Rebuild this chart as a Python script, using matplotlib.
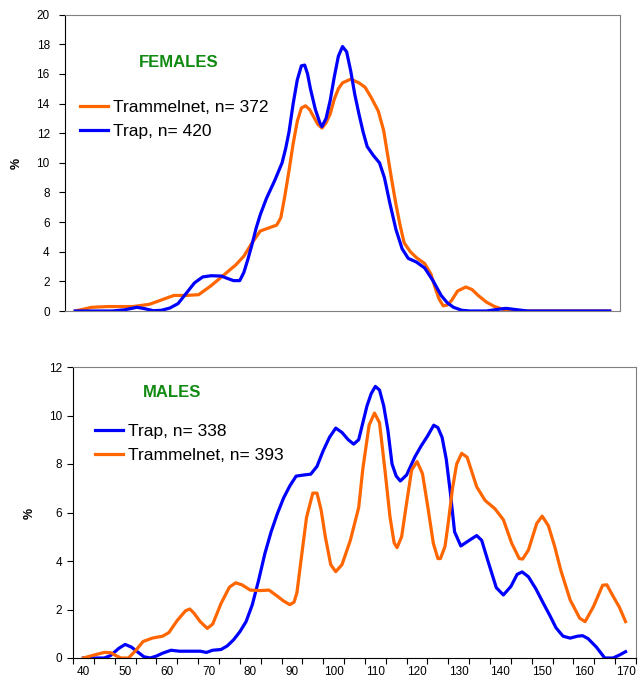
import matplotlib
matplotlib.use("Agg")
import matplotlib.pyplot as plt

plt.rcParams['font.family'] = ['Liberation Sans', 'DejaVu Sans']

# length classes (same scale both panels)
f_tram_x = [40, 44, 48, 54, 58, 61, 64, 67, 70, 73, 76, 79, 81, 83, 85, 87, 89, 90, 91, 92,
            93, 94, 95, 96, 97, 98, 99, 100, 101, 102, 103, 104, 105, 107, 109, 110.5, 112,
            113.7, 115, 116, 117, 118, 119, 120, 121.5, 123, 125, 126.5, 127.5, 128.5, 129.5,
            130.5, 131.5, 133, 135, 136.5, 138, 140, 142, 144, 146, 170]
f_tram_y = [0, 0.25, 0.3, 0.3, 0.45, 0.75, 1.05, 1.05, 1.1, 1.7, 2.4, 3.1, 3.7, 4.6, 5.4, 5.6,
            5.8, 6.3, 7.8, 9.5, 11.3, 12.8, 13.7, 13.85, 13.6, 13.1, 12.6, 12.35, 12.7, 13.3,
            14.3, 15.0, 15.4, 15.65, 15.4, 15.1, 14.4, 13.5, 12.2, 10.5, 8.8, 7.2, 5.8, 4.6,
            4.0, 3.6, 3.2, 2.5, 1.6, 0.8, 0.35, 0.4, 0.7, 1.35, 1.62, 1.45, 1.05, 0.6, 0.3,
            0.12, 0, 0]

f_trap_x = [40, 49, 52, 55, 57, 59, 61, 63, 65, 67, 69, 71, 73, 75.5, 77, 78.5, 80, 81, 82,
            83, 84, 85, 86.5, 88.5, 90.3, 91.2, 92, 93, 94, 95, 95.8, 96.5, 97.2, 98.4, 99.5,
            100, 101, 102, 103, 104, 105, 106, 107, 108, 109, 110, 111, 112.5, 114, 115.2,
            116.5, 118, 119.5, 121, 123, 125, 127, 129, 130.5, 132, 134, 136, 140, 142.5,
            144.8, 147, 150, 170]
f_trap_y = [0, 0, 0.08, 0.25, 0.15, 0.02, 0.05, 0.2, 0.5, 1.2, 1.9, 2.3, 2.38, 2.36, 2.2,
            2.05, 2.05, 2.6, 3.5, 4.5, 5.6, 6.5, 7.6, 8.8, 10.0, 11.0, 12.1, 14.0, 15.6,
            16.55, 16.6, 16.0, 15.0, 13.6, 12.7, 12.45, 13.0, 14.2, 15.8, 17.2, 17.85, 17.5,
            16.2, 14.6, 13.3, 12.1, 11.1, 10.5, 10.0, 9.0, 7.3, 5.5, 4.2, 3.55, 3.3, 2.9,
            2.05, 1.05, 0.55, 0.25, 0.05, 0, 0, 0.1, 0.18, 0.1, 0, 0]

m_trap_x = [40, 45, 46.5, 48.5, 50, 51.5, 53, 54.5, 56, 57.5, 59, 61, 63, 66, 68, 69.5, 71,
            73, 74.5, 76, 77.5, 79, 80.5, 82, 83.5, 85, 86.5, 88, 89.5, 91, 93, 94.5, 96,
            97.5, 99, 100.5, 102, 103.5, 104.8, 106, 107, 108, 109, 110, 111, 112, 113, 114,
            115, 116, 117.5, 119.5, 121, 122.5, 124, 125, 126, 127, 128, 129, 130.5, 132.5,
            134.3, 135.5, 137, 139, 140.7, 142.5, 144, 145.2, 146.7, 148.5, 150.3, 152,
            153.3, 155, 156.7, 158.5, 159.7, 161, 163, 165, 167, 168.5, 170]
m_trap_y = [0, 0, 0.1, 0.4, 0.56, 0.45, 0.25, 0.05, 0, 0.08, 0.2, 0.32, 0.28, 0.28, 0.28,
            0.23, 0.32, 0.35, 0.5, 0.75, 1.08, 1.5, 2.2, 3.2, 4.3, 5.2, 5.95, 6.6, 7.1, 7.5,
            7.55, 7.58, 7.9, 8.55, 9.1, 9.48, 9.3, 9.0, 8.82, 9.0, 9.7, 10.4, 10.9, 11.2,
            11.05, 10.4, 9.4, 8.0, 7.5, 7.3, 7.55, 8.3, 8.75, 9.15, 9.6, 9.5, 9.1, 8.2, 6.8,
            5.2, 4.62, 4.85, 5.05, 4.85, 4.0, 2.9, 2.6, 2.95, 3.45, 3.55, 3.35, 2.85, 2.25,
            1.7, 1.25, 0.9, 0.82, 0.9, 0.92, 0.8, 0.45, 0, 0, 0.12, 0.26]

m_tram_x = [40, 42.5, 45, 46.5, 48, 49, 50.8, 52.5, 54.3, 56.5, 59, 60.5, 62.5, 64.5, 65.5,
            66.5, 68, 69.7, 71, 73, 75, 76.5, 78, 80, 82.3, 84.5, 86.5, 88, 89.5, 90.5, 91.2,
            92.3, 93.5, 95, 96, 97, 98, 99.3, 100.5, 102, 104, 106, 107, 108.5, 109.8, 111,
            112.3, 113.5, 114.5, 115.2, 116.3, 117.5, 118.7, 120, 121.3, 122.7, 123.9, 125,
            125.6, 126.7, 127.5, 128.5, 129.5, 130.7, 132, 134.3, 136.3, 138.7, 140.7, 142.7,
            144.5, 145.3, 146.7, 148.7, 150, 151.5, 153, 154.5, 156.7, 159, 160.3, 162.3,
            164.5, 165.5, 167, 168.5, 170]
m_tram_y = [0, 0.12, 0.23, 0.22, 0.08, 0, 0, 0.3, 0.68, 0.82, 0.9, 1.05, 1.55, 1.95, 2.02,
            1.85, 1.5, 1.22, 1.4, 2.25, 2.92, 3.1, 3.02, 2.8, 2.78, 2.8, 2.55, 2.35, 2.2, 2.3,
            2.7, 4.2, 5.8, 6.8, 6.8, 6.1, 5.0, 3.85, 3.56, 3.85, 4.85, 6.2, 7.8, 9.6, 10.1,
            9.7, 7.75, 5.83, 4.75, 4.55, 5.0, 6.4, 7.75, 8.1, 7.6, 6.1, 4.73, 4.1, 4.1, 4.6,
            5.6, 7.0, 8.0, 8.44, 8.28, 7.06, 6.5, 6.15, 5.7, 4.73, 4.1, 4.08, 4.45, 5.55,
            5.85, 5.45, 4.6, 3.6, 2.4, 1.64, 1.5, 2.12, 3.0, 3.02, 2.55, 2.1, 1.5]

x_labels = list(range(40, 171, 10))

ORANGE = '#FF6600'
BLUE = '#0000FF'
GREEN = '#118A11'

fig = plt.figure(figsize=(6.42, 6.81), dpi=100)
ax1 = fig.add_axes([65/642, 1 - 311/681, 555/642, 296.3/681])
ax2 = fig.add_axes([73/642, 23/681, 563/642, 291/681])

lw = 2.3
ax1.plot(f_tram_x, f_tram_y, color=ORANGE, lw=lw, label='Trammelnet, n= 372', solid_joinstyle='round')
ax1.plot(f_trap_x, f_trap_y, color=BLUE, lw=lw, label='Trap, n= 420', solid_joinstyle='round')
ax2.plot(m_trap_x, m_trap_y, color=BLUE, lw=lw, label='Trap, n= 338', solid_joinstyle='round')
ax2.plot(m_tram_x, m_tram_y, color=ORANGE, lw=lw, label='Trammelnet, n= 393', solid_joinstyle='round')

for ax in (ax1, ax2):
    ax.set_xlim(37.5, 172.5)
    for s in ('top', 'right'):
        ax.spines[s].set_color('#808080')
    ax.spines['left'].set_color('black')
    ax.tick_params(axis='y', direction='out', length=4, width=0.8, labelsize=8.5)

ax1.set_ylim(0, 20)
ax1.set_yticks(range(0, 21, 2))
ax1.set_xticks([])
ax1.spines['bottom'].set_color('#808080')
ax1.tick_params(axis='y', pad=7)

ax2.set_ylim(0, 12)
ax2.set_yticks(range(0, 13, 2))
ax2.tick_params(axis='y', pad=4)
ax2.set_xticks([37.5 + 5 * k for k in range(28)])
ax2.set_xticklabels([])
ax2.tick_params(axis='x', which='major', direction='out', length=4, width=0.8)
ax2.set_xticks(x_labels, minor=True)
ax2.set_xticklabels([str(v) for v in x_labels], minor=True, fontsize=8.5)
ax2.tick_params(axis='x', which='minor', length=0, pad=6)
ax2.spines['bottom'].set_color('black')

ax1.text(0.204, 0.84, 'FEMALES', transform=ax1.transAxes, color=GREEN,
         fontsize=12, fontweight='bold', ha='center', va='center')
ax2.text(0.176, 0.911, 'MALES', transform=ax2.transAxes, color=GREEN,
         fontsize=12, fontweight='bold', ha='center', va='center')

leg_kw = dict(frameon=False, fontsize=12.5, handlelength=1.6, handletextpad=0.3,
              borderpad=0, borderaxespad=0, labelspacing=0.5, loc='upper left')
ax1.legend(bbox_to_anchor=(0.027, 0.712), **leg_kw)
ax2.legend(bbox_to_anchor=(0.039, 0.805), **leg_kw)

fig.text(17/642, 1 - 163/681, '%', rotation=90, fontsize=9, fontweight='bold',
         ha='center', va='center')
fig.text(30/642, 1 - 513/681, '%', rotation=90, fontsize=9, fontweight='bold',
         ha='center', va='center')

fig.savefig('out.png', dpi=100)
